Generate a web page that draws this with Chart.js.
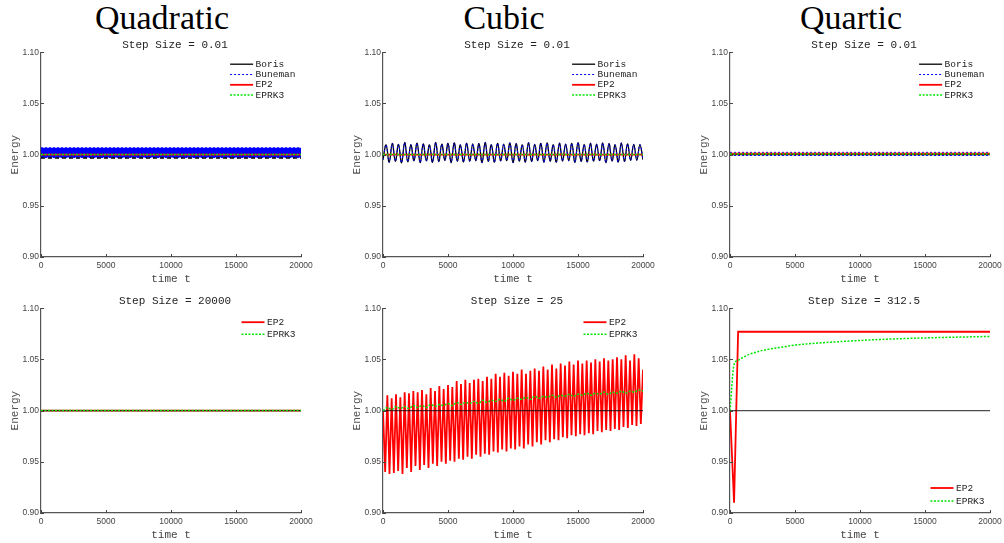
<!DOCTYPE html>
<html>
<head>
<meta charset="utf-8">
<script src="https://cdn.jsdelivr.net/npm/chart.js@4.4.1/dist/chart.umd.min.js"></script>
<style>
  body { margin: 0; background: #fff; width: 1004px; height: 543px; position: relative; overflow: hidden; }
  .head { position: absolute; top: 0; width: 300px; text-align: center; font-family: "Liberation Serif", serif; font-size: 34px; line-height: 36px; color: #000; }
  canvas { position: absolute; }
</style>
</head>
<body>
<div class="head" style="left:12px">Quadratic</div>
<div class="head" style="left:354px">Cubic</div>
<div class="head" style="left:701px">Quartic</div>

<canvas id="c1" width="350" height="248" style="left:0px;top:38px"></canvas>
<canvas id="c2" width="350" height="248" style="left:342px;top:38px"></canvas>
<canvas id="c3" width="350" height="248" style="left:689px;top:38px"></canvas>
<canvas id="c4" width="350" height="248" style="left:0px;top:294px"></canvas>
<canvas id="c5" width="350" height="248" style="left:342px;top:294px"></canvas>
<canvas id="c6" width="350" height="248" style="left:689px;top:294px"></canvas>

<script>
// axis ticks
const xTicks = [0, 5000, 10000, 15000, 20000];
const yTicks = [0.90, 0.95, 1.00, 1.05, 1.10];

// top row, step size 0.01 (fast oscillations shown as min/max envelopes)
const flatTimes = [0, 20000];
const quadBorisTop = [1.000, 1.000];
const quadBorisBottom = [0.9967, 0.9967];
const quadBunemanTop = [1.0066, 1.0066];
const quadBunemanBottom = [0.9971, 0.9971];
const quadEP2 = [1.000, 1.000];
const quadEPRK3 = [1.000, 1.000];

// cubic: Boris and Buneman coincide, peaks and troughs of the oscillation
const cubicOsc = [
  0.9950,
  1.0095, 0.9925, 1.0110, 0.9935, 1.0100, 0.9920, 1.0118, 0.9930, 1.0098, 0.9940,
  1.0112, 0.9922, 1.0105, 0.9938, 1.0095, 0.9925, 1.0118, 0.9932, 1.0102, 0.9942,
  1.0110, 0.9920, 1.0115, 0.9936, 1.0096, 0.9928, 1.0112, 0.9935, 1.0104, 0.9940,
  1.0108, 0.9922, 1.0118, 0.9934, 1.0098, 0.9926, 1.0110, 0.9938, 1.0102, 0.9941,
  1.0114, 0.9921, 1.0108, 0.9936, 1.0096, 0.9927, 1.0116, 0.9933, 1.0100, 0.9942,
  1.0110, 0.9923, 1.0114, 0.9935, 1.0097, 0.9926, 1.0112, 0.9937, 1.0103, 0.9940,
  1.0109, 0.9922, 1.0117, 0.9934, 1.0099, 0.9928, 1.0111, 0.9936, 1.0101, 0.9941,
  1.0113, 0.9921, 1.0107, 0.9937, 1.0096, 0.9927, 1.0115, 0.9933, 1.0104, 0.9943,
  1.0100, 0.9945, 1.0098, 0.9950
];
const cubicEP2 = [1.000, 1.000];
const cubicEPRK3 = [1.000, 1.000];

const quartBoris = [1.000, 1.000];
const quartBunemanTop = [1.0022, 1.0022];
const quartBunemanBottom = [0.9992, 0.9992];
const quartEP2 = [1.0010, 1.0010];
const quartEPRK3 = [1.0005, 1.0005];

// bottom row
const exact = [1.000, 1.000];
const bigEP2 = [1.000, 1.000];
const bigEPRK3 = [1.000, 1.000];

// step size 25: EP2 troughs / peaks per cycle, EPRK3 slow drift
const midTroughs = [
  0.940, 0.938, 0.939, 0.941, 0.938, 0.944, 0.940, 0.946, 0.942, 0.947,
  0.944, 0.948, 0.946, 0.950, 0.948, 0.951, 0.950, 0.953, 0.952, 0.955,
  0.953, 0.957, 0.955, 0.958, 0.957, 0.960, 0.959, 0.962, 0.960, 0.963,
  0.962, 0.965, 0.963, 0.967, 0.965, 0.969, 0.967, 0.971, 0.969, 0.972,
  0.971, 0.974, 0.973, 0.976, 0.975, 0.977, 0.976, 0.978, 0.977, 0.980,
  0.979, 0.981, 0.980, 0.982, 0.981, 0.984, 0.983, 0.986, 0.985, 0.987
];
const midPeaks = [
  1.015, 1.012, 1.016, 1.013, 1.018, 1.017, 1.019, 1.018, 1.020, 1.016,
  1.022, 1.019, 1.024, 1.021, 1.025, 1.023, 1.029, 1.026, 1.030, 1.027,
  1.030, 1.031, 1.029, 1.033, 1.031, 1.036, 1.033, 1.037, 1.034, 1.038,
  1.036, 1.040, 1.036, 1.039, 1.041, 1.039, 1.043, 1.040, 1.045, 1.041,
  1.046, 1.044, 1.048, 1.045, 1.049, 1.046, 1.049, 1.047, 1.050, 1.048,
  1.051, 1.049, 1.050, 1.052, 1.050, 1.054, 1.049, 1.055, 1.051, 1.040
];
const midEPRK3 = [
  1.000, 1.003, 1.001, 1.004, 1.002, 1.004, 1.002, 1.005, 1.003, 1.005,
  1.003, 1.006, 1.004, 1.006, 1.005, 1.007, 1.005, 1.008, 1.006, 1.008,
  1.007, 1.009, 1.007, 1.010, 1.008, 1.010, 1.009, 1.011, 1.009, 1.012,
  1.010, 1.012, 1.011, 1.013, 1.011, 1.014, 1.012, 1.014, 1.013, 1.015,
  1.013, 1.015, 1.014, 1.016, 1.014, 1.016, 1.015, 1.017, 1.015, 1.017,
  1.016, 1.018, 1.016, 1.018, 1.017, 1.019, 1.017, 1.019, 1.018, 1.020, 1.019
];

// step size 312.5
const lateEP2Times = [0, 312.5, 625, 20000];
const lateEP2 = [1.000, 0.910, 1.077, 1.077];
const lateEPRK3Times = [0, 312.5, 625, 1000, 1500, 2000, 2500, 3000, 4000, 5000,
  6000, 7000, 8000, 9000, 10000, 12000, 14000, 16000, 18000, 20000];
const lateEPRK3 = [1.000, 1.045, 1.049, 1.052, 1.055, 1.057, 1.0588, 1.060, 1.062, 1.064,
  1.0652, 1.0662, 1.0670, 1.0678, 1.0685, 1.0697, 1.0706, 1.0713, 1.0719, 1.0724];

const spread = (n) => Array.from({ length: n }, (_, i) => i * 20000 / (n - 1));

const mono = '"Liberation Mono", monospace';
Chart.defaults.font.family = '"Liberation Sans", Arial, sans-serif';

const sBoris = { borderColor: '#000000', borderWidth: 1.3 };
const sBuneman = { borderColor: '#0000ff', borderWidth: 1, borderDash: [2, 2] };
const sEP2 = { borderColor: '#ff0000', borderWidth: 1.8 };
const sEPRK3 = { borderColor: '#00e600', borderWidth: 1.5, borderDash: [2, 1.5] };
const sExact = { borderColor: 'rgba(0,0,0,0.7)', borderWidth: 1.3 };

function series(label, times, values, style, extra) {
  return Object.assign({
    label: label,
    data: times.map((t, i) => ({ x: t, y: values[i] })),
    pointRadius: 0, fill: false, tension: 0
  }, style, extra || {});
}

// ticks pointing into the plot, as in the original
const inwardTicks = {
  id: 'inwardTicks',
  afterDatasetsDraw(chart) {
    const { ctx, chartArea: a, scales: { x, y } } = chart;
    ctx.save();
    ctx.strokeStyle = '#444';
    ctx.lineWidth = 1;
    ctx.beginPath();
    x.ticks.forEach(t => {
      const px = Math.round(x.getPixelForValue(t.value)) + 0.5;
      ctx.moveTo(px, a.bottom); ctx.lineTo(px, a.bottom - 3);
    });
    y.ticks.forEach(t => {
      const py = Math.round(y.getPixelForValue(t.value)) + 0.5;
      ctx.moveTo(a.left, py); ctx.lineTo(a.left + 3, py);
    });
    ctx.stroke();
    ctx.restore();
  }
};

// legend drawn inside the plot area, matlab style (no box)
const innerLegend = {
  id: 'innerLegend',
  afterDraw(chart, args, opts) {
    const { ctx, chartArea: a } = chart;
    const items = chart.data.datasets.filter(d => d.label);
    ctx.save();
    ctx.font = '9.5px ' + mono;
    const w = Math.max(...items.map(d => ctx.measureText(d.label).width));
    const textX = a.right - 5.5 - w;
    items.forEach((d, i) => {
      const yy = opts.corner === 'bottom'
        ? a.bottom - opts.dy - (items.length - 1 - i) * opts.rowH
        : a.top + opts.dy + i * opts.rowH;
      ctx.strokeStyle = d.borderColor;
      ctx.lineWidth = d.borderWidth;
      ctx.setLineDash(d.borderDash || []);
      ctx.beginPath();
      ctx.moveTo(textX - 25.5, yy);
      ctx.lineTo(textX - 2.5, yy);
      ctx.stroke();
      ctx.setLineDash([]);
      ctx.fillStyle = '#222';
      ctx.textBaseline = 'middle';
      ctx.fillText(d.label, textX, yy);
    });
    ctx.restore();
  }
};

function makeChart(id, title, datasets, legend) {
  // later series on top, like matlab's plot order
  datasets.forEach((d, i) => { d.order = datasets.length - i; });
  new Chart(document.getElementById(id), {
    type: 'line',
    data: { datasets: datasets },
    options: {
      responsive: false,
      animation: false,
      layout: { autoPadding: false, padding: 0 },
      plugins: {
        legend: { display: false },
        tooltip: { enabled: false },
        title: { display: true, text: title, color: '#222', font: { family: mono, size: 11, weight: 'normal' }, padding: { top: 0, bottom: 1 } },
        innerLegend: legend
      },
      scales: {
        x: {
          type: 'linear', min: 0, max: 20000,
          afterFit: s => { s.height = 29; },
          afterBuildTicks: s => { s.ticks = xTicks.map(v => ({ value: v })); },
          grid: { display: false, drawTicks: false },
          border: { color: '#555', width: 1.2 },
          ticks: { color: '#444', font: { size: 8.5 }, padding: 4, maxRotation: 0, callback: v => String(v) },
          title: { display: true, text: 'time t', color: '#444', font: { family: mono, size: 11 }, padding: { top: 0, bottom: 0 } }
        },
        y: {
          min: 0.9, max: 1.1,
          afterFit: s => { s.width = 41; },
          afterBuildTicks: s => { s.ticks = yTicks.map(v => ({ value: v })); },
          grid: { display: false, drawTicks: false },
          border: { color: '#555', width: 1.2 },
          ticks: { color: '#444', font: { size: 8.5 }, padding: 2, callback: v => v.toFixed(2) },
          title: { display: true, text: 'Energy', color: '#555', font: { family: mono, size: 11 }, padding: { top: 8, bottom: 0 } }
        },
        // empty right margin so the subtitle centres like the original
        pad: {
          position: 'right', display: true,
          afterFit: s => { s.width = 49; },
          grid: { display: false, drawTicks: false },
          border: { display: false },
          ticks: { display: false }
        }
      }
    },
    plugins: [inwardTicks, innerLegend]
  });
}

const topLegend = { corner: 'top', dy: 12, rowH: 10.3 };

makeChart('c1', 'Step Size = 0.01', [
  series('Boris', flatTimes, quadBorisTop, sBoris),
  series('Buneman', flatTimes, quadBunemanTop, sBuneman, { fill: '+1', backgroundColor: '#0000ff' }),
  series('', flatTimes, quadBunemanBottom, sBuneman),
  series('', flatTimes, quadBorisBottom, { borderColor: '#000', borderWidth: 1.5, borderDash: [4, 3] }),
  series('EP2', flatTimes, quadEP2, sEP2),
  series('EPRK3', flatTimes, quadEPRK3, sEPRK3)
], topLegend);

makeChart('c2', 'Step Size = 0.01', [
  series('Boris', spread(cubicOsc.length), cubicOsc, sBoris, { tension: 0.4 }),
  series('Buneman', spread(cubicOsc.length), cubicOsc, sBuneman, { tension: 0.4 }),
  series('EP2', flatTimes, cubicEP2, sEP2),
  series('EPRK3', flatTimes, cubicEPRK3, sEPRK3)
], topLegend);

makeChart('c3', 'Step Size = 0.01', [
  series('Boris', flatTimes, quartBoris, sBoris),
  series('Buneman', flatTimes, quartBunemanTop, sBuneman),
  series('', flatTimes, quartBunemanBottom, sBuneman),
  series('EP2', flatTimes, quartEP2, sEP2),
  series('EPRK3', flatTimes, quartEPRK3, sEPRK3)
], topLegend);

makeChart('c4', 'Step Size = 20000', [
  series('EP2', flatTimes, bigEP2, sEP2),
  series('', flatTimes, exact, sExact),
  series('EPRK3', flatTimes, bigEPRK3, sEPRK3)
], { corner: 'top', dy: 14, rowH: 12 });

const midEP2 = [1.000];
midTroughs.forEach((v, i) => midEP2.push(v, midPeaks[i]));

makeChart('c5', 'Step Size = 25', [
  series('EP2', spread(midEP2.length), midEP2, sEP2),
  series('', flatTimes, exact, sExact),
  series('EPRK3', spread(midEPRK3.length), midEPRK3, sEPRK3, { tension: 0.4 })
], { corner: 'top', dy: 14, rowH: 12 });

makeChart('c6', 'Step Size = 312.5', [
  series('EP2', lateEP2Times, lateEP2, sEP2),
  series('', flatTimes, exact, sExact),
  series('EPRK3', lateEPRK3Times, lateEPRK3, sEPRK3, { cubicInterpolationMode: 'monotone' })
], { corner: 'bottom', dy: 12, rowH: 13 });
</script>
</body>
</html>
